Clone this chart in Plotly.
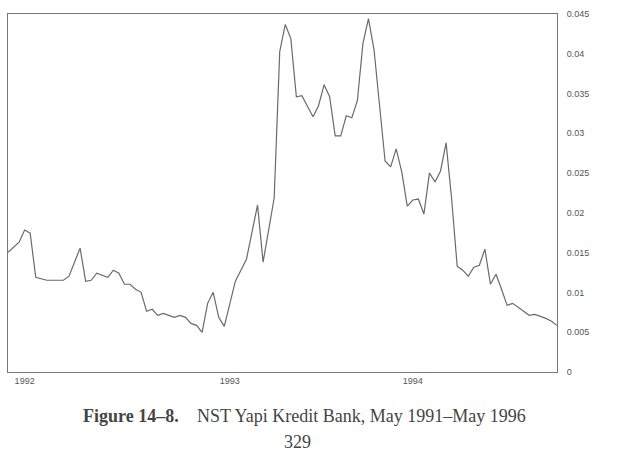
import plotly.graph_objects as go

obs = list(range(100))
values = [
    0.01506, 0.01569, 0.01632, 0.01784, 0.01746, 0.01191, 0.01172, 0.01153, 0.01153, 0.01153,
    0.01153, 0.01204, 0.01380, 0.01557, 0.01141, 0.01153, 0.01242, 0.01216, 0.01191, 0.01280,
    0.01242, 0.01103, 0.01103, 0.01040, 0.01002, 0.00763, 0.00788, 0.00712, 0.00737, 0.00712,
    0.00687, 0.00712, 0.00687, 0.00611, 0.00586, 0.00498, 0.00863, 0.01002, 0.00687, 0.00574,
    0.00851, 0.01141, 0.01280, 0.01418, 0.01758, 0.02099, 0.01380, 0.01784, 0.02187, 0.04027,
    0.04368, 0.04191, 0.03460, 0.03473, 0.03347, 0.03208, 0.03347, 0.03612, 0.03460, 0.02969,
    0.02969, 0.03221, 0.03196, 0.03410, 0.04128, 0.04443, 0.04053, 0.03359, 0.02653, 0.02578,
    0.02805, 0.02515, 0.02086, 0.02162, 0.02174, 0.01985, 0.02502, 0.02389, 0.02527, 0.02880,
    0.02174, 0.01330, 0.01280, 0.01204, 0.01317, 0.01342, 0.01544, 0.01103, 0.01229, 0.01040,
    0.00838, 0.00863, 0.00813, 0.00763, 0.00712, 0.00725, 0.00700, 0.00674, 0.00637, 0.00586,
]

x_tick_pos = [3, 40, 73]
x_tick_labels = ["1992", "1993", "1994"]
y_tick_vals = [0, 0.005, 0.01, 0.015, 0.02, 0.025, 0.03, 0.035, 0.04, 0.045]
y_tick_labels = ["0", "0.005", "0.01", "0.015", "0.02", "0.025", "0.03", "0.035", "0.04", "0.045"]

fig = go.Figure()
fig.add_trace(go.Scatter(
    x=obs, y=values, mode="lines",
    line=dict(color="#6a6a6a", width=1.2),
    hoverinfo="skip", showlegend=False,
))

axis_font = dict(family="Liberation Sans, Arial, sans-serif", size=9, color="#555555")

fig.update_layout(
    width=625, height=460,
    margin=dict(l=8, r=68, t=14, b=88),
    paper_bgcolor="white", plot_bgcolor="white",
    xaxis=dict(
        range=[0, 99], tickvals=x_tick_pos, ticktext=x_tick_labels,
        showgrid=False, zeroline=False, ticks="",
        showline=True, linecolor="#777777", linewidth=1, mirror=True,
        tickfont=axis_font,
    ),
    yaxis=dict(
        range=[0, 0.045], side="right", tickvals=y_tick_vals, ticktext=y_tick_labels,
        showgrid=False, zeroline=False, ticks="", ticklabelstandoff=7,
        showline=True, linecolor="#777777", linewidth=1, mirror=True,
        tickfont=axis_font,
    ),
)

cap_font = dict(family="Liberation Serif, Times New Roman, serif", size=18, color="#444444")
fig.add_annotation(text="<b>Figure 14–8.</b>", xref="paper", yref="paper",
                   x=0.3151, y=-0.1229, xanchor="right", yanchor="middle",
                   showarrow=False, font=cap_font)
fig.add_annotation(text="NST Yapi Kredit Bank, May 1991–May 1996", xref="paper", yref="paper",
                   x=0.3406, y=-0.1229, xanchor="left", yanchor="middle",
                   showarrow=False, font=cap_font)
fig.add_annotation(text="329", xref="paper", yref="paper",
                   x=0.5273, y=-0.1955, xanchor="center", yanchor="middle",
                   showarrow=False, font=cap_font)

fig.write_html("out.html")
